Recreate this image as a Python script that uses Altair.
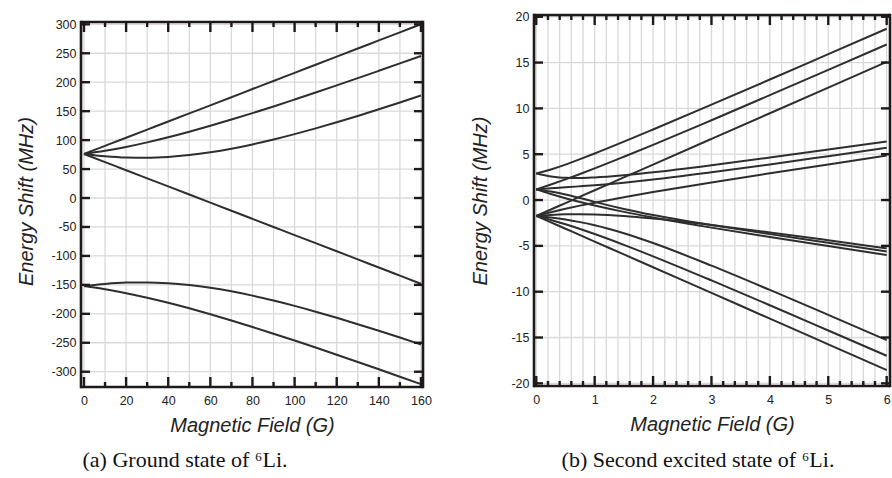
import altair as alt
import pandas as pd

# ---------------- (a) 2S1/2 ground state of 6Li ----------------
# magnetic field (G) and level energies (MHz)
field_a = [0, 10, 20, 30, 40, 50, 60, 70, 80, 90, 100, 110, 120, 130, 140, 150, 160]
a_f32_p32 = [76.1, 90.1, 104.1, 118.1, 132.1, 146.1, 160.1, 174.1, 188.2, 202.2,
             216.2, 230.2, 244.2, 258.2, 272.2, 286.2, 300.2]
a_f32_p12 = [76.1, 81.5, 88.2, 96.1, 104.9, 114.5, 124.7, 135.5, 146.7, 158.2,
             170.1, 182.2, 194.5, 207.0, 219.7, 232.5, 245.4]
a_f32_m12 = [76.1, 72.2, 70.0, 69.6, 71.0, 74.2, 79.0, 85.2, 92.6, 101.0,
             110.3, 120.3, 130.8, 141.8, 153.2, 165.0, 177.0]
a_f32_m32 = [76.1, 62.1, 48.0, 34.0, 20.0, 6.0, -8.0, -22.0, -36.0, -50.0,
             -64.0, -78.0, -92.0, -106.0, -120.1, -134.1, -148.1]
a_f12_m12 = [-152.1, -148.3, -146.1, -145.7, -147.1, -150.3, -155.0, -161.2, -168.6, -177.1,
             -186.3, -196.3, -206.9, -217.9, -229.3, -241.0, -253.0]
a_f12_p12 = [-152.1, -157.5, -164.3, -172.1, -180.9, -190.5, -200.8, -211.5, -222.7, -234.3,
             -246.2, -258.3, -270.6, -283.1, -295.8, -308.6, -321.5]

a_xlabels = [0, 20, 40, 60, 80, 100, 120, 140, 160]
a_xminor = [10, 30, 50, 70, 90, 110, 130, 150]
a_xgrid = [0, 10, 20, 30, 40, 50, 60, 70, 80, 90, 100, 110, 120, 130, 140, 150, 160]
a_yticks = [-300, -250, -200, -150, -100, -50, 0, 50, 100, 150, 200, 250, 300]

# ---------------- (b) 2P3/2 second excited state of 6Li ----------------
field_b = [0, 0.25, 0.5, 0.75, 1, 1.5, 2, 3, 4, 5, 6]
b_p52 = [-1.73, -1.03, -0.33, 0.37, 1.07, 2.47, 3.87, 6.67, 9.47, 12.27, 15.07]
b_p32_hi = [1.16, 1.69, 2.25, 2.84, 3.45, 4.72, 6.02, 8.71, 11.45, 14.20, 16.97]
b_p32_lo = [-1.73, -1.33, -0.96, -0.61, -0.29, 0.31, 0.87, 1.92, 2.92, 3.89, 4.86]
b_p12_a = [2.89, 3.34, 3.87, 4.46, 5.08, 6.37, 7.70, 10.41, 13.15, 15.92, 18.69]
b_p12_b = [1.16, 1.29, 1.39, 1.50, 1.61, 1.89, 2.23, 3.03, 3.89, 4.79, 5.70]
b_p12_c = [-1.73, -1.62, -1.56, -1.55, -1.58, -1.75, -2.02, -2.72, -3.53, -4.39, -5.27]
b_m12_a = [2.89, 2.58, 2.42, 2.40, 2.46, 2.70, 3.03, 3.80, 4.64, 5.51, 6.40]
b_m12_b = [1.16, 0.93, 0.61, 0.22, -0.20, -0.97, -1.63, -2.73, -3.72, -4.67, -5.62]
b_m12_c = [-1.73, -1.90, -2.12, -2.41, -2.75, -3.62, -4.69, -7.16, -9.81, -12.53, -15.28]
b_m32_hi = [1.16, 0.66, 0.20, -0.22, -0.60, -1.29, -1.90, -3.01, -4.03, -5.02, -5.99]
b_m32_lo = [-1.73, -2.17, -2.65, -3.16, -3.71, -4.89, -6.14, -8.77, -11.48, -14.23, -16.99]
b_m52 = [-1.73, -2.43, -3.13, -3.83, -4.53, -5.93, -7.33, -10.13, -12.94, -15.74, -18.54]

b_xlabels = [0, 1, 2, 3, 4, 5, 6]
b_xminor = [round(0.2 * i, 1) for i in range(31) if i % 5 != 0]
b_xgrid = [round(0.2 * i, 1) for i in range(31)]
b_yticks = [-20, -15, -10, -5, 0, 5, 10, 15, 20]


def long_table(field, levels):
    rows = []
    for name, values in levels.items():
        for b, e in zip(field, values):
            rows.append({"B": b, "E": e, "level": name})
    return pd.DataFrame(rows)


df_a = long_table(field_a, {
    "F=3/2, mF=3/2": a_f32_p32, "F=3/2, mF=1/2": a_f32_p12,
    "F=3/2, mF=-1/2": a_f32_m12, "F=3/2, mF=-3/2": a_f32_m32,
    "F=1/2, mF=-1/2": a_f12_m12, "F=1/2, mF=1/2": a_f12_p12,
})
df_b = long_table(field_b, {
    "mF=5/2": b_p52, "mF=3/2 a": b_p32_hi, "mF=3/2 b": b_p32_lo,
    "mF=1/2 a": b_p12_a, "mF=1/2 b": b_p12_b, "mF=1/2 c": b_p12_c,
    "mF=-1/2 a": b_m12_a, "mF=-1/2 b": b_m12_b, "mF=-1/2 c": b_m12_c,
    "mF=-3/2 a": b_m32_hi, "mF=-3/2 b": b_m32_lo, "mF=-5/2": b_m52,
})

LINE = "#2e2e2e"
GRID = "#d9d9d9"
FRAME = "#1e1a1a"
SANS = "Liberation Sans"
SERIF = "Liberation Serif"
# plain hyphen-minus in tick labels
PLAIN = "'' + datum.value"


def panel(df, W, H, top, xdom, ydom, xlabels, xgrid, xminor, yticks,
          ytitle_pad, caption, cap_x, cap_y):
    xs = alt.Scale(domain=xdom, nice=False, zero=False)
    ys = alt.Scale(domain=ydom, nice=False, zero=False)
    # the same axis definition goes on every layer so the merged axis keeps it
    xa = alt.Axis(values=xlabels, title="Magnetic Field (G)", labelExpr=PLAIN,
                  grid=False, ticks=False, tickSize=0, domain=False,
                  labelOverlap=False, labelPadding=7, titlePadding=9)
    ya = alt.Axis(values=yticks, title="Energy Shift (MHz)", labelExpr=PLAIN,
                  grid=False, ticks=False, tickSize=0, domain=False,
                  labelOverlap=False, labelPadding=5, titlePadding=ytitle_pad)

    def X(f):
        return alt.X(f, type="quantitative", scale=xs, axis=xa)

    def Y(f):
        return alt.Y(f, type="quantitative", scale=ys, axis=ya)

    def vals(v):
        return pd.DataFrame({"v": v})

    one = pd.DataFrame({"k": [0]})

    vgrid = alt.Chart(vals(xgrid)).mark_rule(color=GRID, strokeWidth=1.3).encode(
        x=X("v"), y=alt.value(top), y2=alt.value(H))
    hgrid = alt.Chart(vals(yticks)).mark_rule(color=GRID, strokeWidth=1.3).encode(
        y=Y("v"), x=alt.value(0), x2=alt.value(W))

    lines = alt.Chart(df).mark_line(color=LINE, strokeWidth=2, interpolate="monotone").encode(
        x=X("B"), y=Y("E"), detail="level:N")

    fw = 2.6
    frame = [
        alt.Chart(one).mark_rule(color=FRAME, strokeWidth=fw).encode(
            x=alt.value(0), x2=alt.value(W), y=alt.value(top)),
        alt.Chart(one).mark_rule(color=FRAME, strokeWidth=fw).encode(
            x=alt.value(0), x2=alt.value(W), y=alt.value(H)),
        alt.Chart(one).mark_rule(color=FRAME, strokeWidth=fw).encode(
            x=alt.value(0), y=alt.value(top - fw / 2), y2=alt.value(H + fw / 2)),
        alt.Chart(one).mark_rule(color=FRAME, strokeWidth=fw).encode(
            x=alt.value(W), y=alt.value(top - fw / 2), y2=alt.value(H + fw / 2)),
    ]

    tw = 2.4
    ticks = [
        # major and minor ticks along the bottom and top edges, pointing inward
        alt.Chart(vals(xlabels)).mark_rule(color=FRAME, strokeWidth=tw).encode(
            x=X("v"), y=alt.value(H), y2=alt.value(H - 10)),
        alt.Chart(vals(xminor)).mark_rule(color=FRAME, strokeWidth=tw).encode(
            x=X("v"), y=alt.value(H), y2=alt.value(H - 5)),
        alt.Chart(vals(xlabels)).mark_rule(color=FRAME, strokeWidth=tw).encode(
            x=X("v"), y=alt.value(top), y2=alt.value(top + 10)),
        alt.Chart(vals(xminor)).mark_rule(color=FRAME, strokeWidth=tw).encode(
            x=X("v"), y=alt.value(top), y2=alt.value(top + 5)),
        # ticks along the left and right edges
        alt.Chart(vals(yticks)).mark_rule(color=FRAME, strokeWidth=tw).encode(
            y=Y("v"), x=alt.value(0), x2=alt.value(9)),
        alt.Chart(vals(yticks)).mark_rule(color=FRAME, strokeWidth=tw).encode(
            y=Y("v"), x=alt.value(W), x2=alt.value(W - 9)),
    ]

    cap = alt.Chart(pd.DataFrame({"t": [caption]})).mark_text(
        font=SERIF, fontSize=22, color="#111", align="center", baseline="alphabetic"
    ).encode(text="t:N", x=alt.value(cap_x), y=alt.value(cap_y))

    return alt.layer(vgrid, hgrid, lines, *frame, *ticks, cap).properties(width=W, height=H)


left = panel(df_a, 342, 372, 7, [-1.42, 160.97], [-326.4, 316.1],
             a_xlabels, a_xgrid, a_xminor, a_yticks, 14,
             "(a) Ground state of \u2076Li.", 104, 452)
right = panel(df_b, 356, 371, 0, [-0.039, 6.057], [-20.29, 20.19],
              b_xlabels, b_xgrid, b_xminor, b_yticks, 20,
              "(b) Second excited state of \u2076Li.", 164, 452)

chart = alt.hconcat(left, right, spacing=111, bounds="flush").properties(
    padding={"left": 16, "top": 10, "right": 0, "bottom": 0}
).configure_view(stroke=None).configure_axis(
    labelFont=SANS, labelFontSize=12.5, labelColor="#222",
    titleFont=SANS, titleFontSize=20, titleFontStyle="italic",
    titleFontWeight="normal", titleColor="#222",
)

chart.save("out.html", embed_options={"renderer": "svg", "actions": False})
